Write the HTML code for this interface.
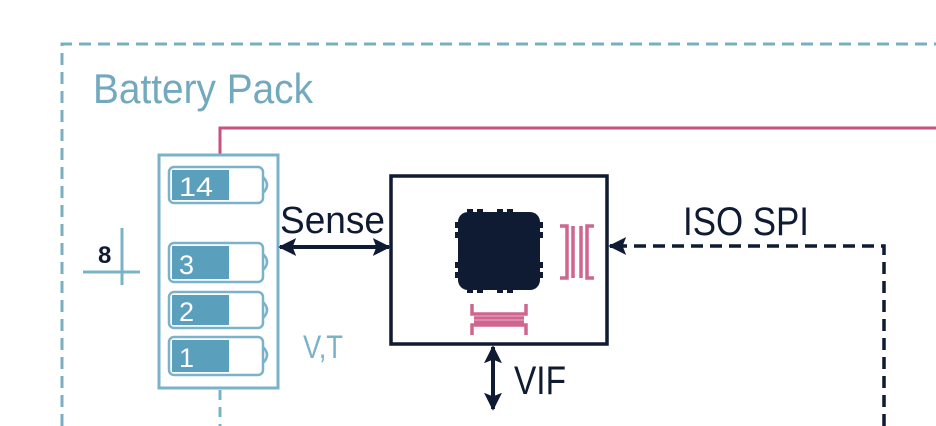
<!DOCTYPE html>
<html><head><style>html,body{margin:0;padding:0;background:#fff;}svg{display:block}</style></head>
<body>
<svg width="936" height="426" viewBox="0 0 936 426" xmlns="http://www.w3.org/2000/svg" font-family="Liberation Sans, sans-serif">
<defs>
<marker id="ah" viewBox="0 0 10 10" refX="9" refY="5" markerWidth="4.5" markerHeight="4.5" orient="auto-start-reverse"><path d="M0,0 L10,5 L0,10 L2,5 z" fill="#0f1a33"/></marker>
</defs>
<path d="M62,426 L62,44 L936,44" fill="none" stroke="#7aafc2" stroke-width="3" stroke-dasharray="12,7"/>
<text x="93" y="103" font-size="42" fill="#72a9bf" textLength="220" lengthAdjust="spacingAndGlyphs">Battery Pack</text>
<path d="M220,156 L220,128 L936,128" fill="none" stroke="#c8527e" stroke-width="3"/>
<rect x="159" y="155" width="119" height="233" fill="#fff" stroke="#7ab3c9" stroke-width="3"/>
<g stroke="#7ab3c9" stroke-width="2.5" fill="#fff">
<rect x="169" y="167" width="94" height="36" rx="5"/>
<rect x="169" y="243" width="94" height="39" rx="5"/>
<rect x="169" y="292" width="94" height="36" rx="5"/>
<rect x="169" y="337" width="94" height="38" rx="5"/>
<path d="M263,177 q8,8 0,16 M263,254 q8,8 0,16 M263,302 q8,8 0,16 M263,347 q8,8 0,16" fill="none"/>
</g>
<g fill="#5a9fbb">
<rect x="172" y="170" width="57" height="30"/>
<rect x="172" y="246" width="57" height="33"/>
<rect x="172" y="295" width="57" height="30"/>
<rect x="172" y="340" width="57" height="32"/>
</g>
<g fill="#fff" font-size="27">
<text x="179" y="196" textLength="34" lengthAdjust="spacingAndGlyphs">14</text>
<text x="179" y="274">3</text>
<text x="179" y="321">2</text>
<text x="179" y="367">1</text>
</g>
<path d="M220,390 L220,426" stroke="#7ab3c9" stroke-width="3" stroke-dasharray="10,7"/>
<text x="98" y="263" font-size="24" font-weight="bold" fill="#0f1a33">8</text>
<path d="M83,272 L140,272 M122,228 L122,285" stroke="#7ab3c9" stroke-width="3"/>
<text x="303" y="358" font-size="32" fill="#7ab3c9" textLength="40" lengthAdjust="spacingAndGlyphs">V,T</text>
<text x="280" y="233" font-size="38" fill="#0f1a33" textLength="105" lengthAdjust="spacingAndGlyphs">Sense</text>
<line x1="280" y1="247" x2="389" y2="247" stroke="#0f1a33" stroke-width="4" marker-start="url(#ah)" marker-end="url(#ah)"/>
<rect x="391" y="176" width="216" height="168" fill="none" stroke="#0f1a33" stroke-width="3.5"/>
<g fill="#0f1a33">
<rect x="458" y="212" width="82" height="78" rx="10"/>
<path d="M467,209h6v3h-6zM477,209h6v3h-6zM497,209h6v3h-6zM507,209h6v3h-6zM467,290h6v3h-6zM477,290h6v3h-6zM497,290h6v3h-6zM507,290h6v3h-6zM455,222h3v6h-3zM455,232h3v6h-3zM455,262h3v6h-3zM455,272h3v6h-3zM540,222h3v6h-3zM540,232h3v6h-3zM540,262h3v6h-3zM540,272h3v6h-3z"/>
</g>
<g stroke="#d0668f" stroke-width="3.5" fill="none">
<path d="M560,226h7v52h-7M573,226v52M581,226v52M594,226h-7v52h7"/>
<path d="M472,304v10h54v-10M472,335v-10h54v10M474,318h50M474,322h50"/>
</g>
<text x="683" y="235" font-size="40" fill="#0f1a33" textLength="126" lengthAdjust="spacingAndGlyphs">ISO SPI</text>
<path d="M884,426 L884,246 L620,246" fill="none" stroke="#0f1a33" stroke-width="3.5" stroke-dasharray="12,7"/>
<line x1="622" y1="246" x2="610" y2="246" stroke="#0f1a33" stroke-width="4" marker-end="url(#ah)"/>
<line x1="493" y1="347" x2="493" y2="409" stroke="#0f1a33" stroke-width="4" marker-start="url(#ah)" marker-end="url(#ah)"/>
<text x="514" y="394" font-size="40" fill="#0f1a33" textLength="52" lengthAdjust="spacingAndGlyphs">VIF</text>
</svg>
</body></html>
